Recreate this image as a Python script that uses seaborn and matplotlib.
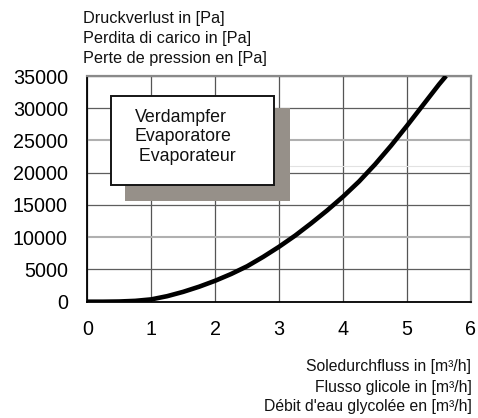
import matplotlib
matplotlib.use("Agg")
import matplotlib.pyplot as plt
import seaborn as sns
import pandas as pd
from matplotlib.patches import Rectangle
from matplotlib.ticker import MultipleLocator

# ---- data ----
flow = [0.0, 0.25, 0.5, 0.75, 1.0, 1.25, 1.5, 1.75, 2.0, 2.25, 2.5, 2.75,
        3.0, 3.25, 3.5, 3.75, 4.0, 4.25, 4.5, 4.75, 5.0, 5.25, 5.5, 5.61]
pressure_drop = [0, 0, 30, 130, 360, 860, 1530, 2330, 3250, 4300, 5500, 6950,
                 8530, 10250, 12150, 14150, 16300, 18650, 21300, 24200, 27300, 30500, 33700, 35000]
x_ticks = [0, 1, 2, 3, 4, 5, 6]
y_ticks = [0, 5000, 10000, 15000, 20000, 25000, 30000, 35000]
y_title = ["Druckverlust in [Pa]", "Perdita di carico in [Pa]", "Perte de pression en [Pa]"]
x_title = ["Soledurchfluss in [m³/h]", "Flusso glicole in [m³/h]", "Débit d'eau glycolée en [m³/h]"]
box_lines = ["Verdampfer", "Evaporatore", " Evaporateur"]

df = pd.DataFrame({"flow": flow, "dp": pressure_drop})

sns.set_theme(style="white")
plt.rcParams["font.family"] = ["Liberation Sans", "DejaVu Sans"]

W, H = 478, 418
fig = plt.figure(figsize=(W / 100, H / 100), dpi=100)
fig.patch.set_facecolor("white")
ax = fig.add_axes([87.3 / W, 1 - 301.7 / H, (471 - 87.3) / W, (301.7 - 76) / H])
ax.set_facecolor("white")

sns.lineplot(data=df, x="flow", y="dp", ax=ax, color="black", linewidth=3.3,
             solid_capstyle="butt", zorder=5)

ax.set_xlim(0, 6)
ax.set_ylim(0, 35000)
ax.set_xticks(x_ticks)
ax.set_yticks(y_ticks)
ax.set_xticklabels([str(v) for v in x_ticks])
ax.set_yticklabels([str(v) for v in y_ticks])
ax.xaxis.set_minor_locator(MultipleLocator(0.2))
ax.yaxis.set_minor_locator(MultipleLocator(1000))
ax.set_xlabel("")
ax.set_ylabel("")

ax.tick_params(axis="both", which="major", direction="out", length=4.3, width=0.9,
               color="black", labelsize=14.2, labelcolor="black")
ax.tick_params(axis="y", which="major", pad=9.6)
ax.tick_params(axis="x", which="major", pad=9)
ax.tick_params(axis="both", which="minor", direction="in", length=3, width=0.8, color="#333333")

ax.grid(True, which="major", axis="x", color="#555555", linewidth=0.9)
ax.grid(True, which="major", axis="y", color="#5e5e5e", linewidth=0.9)
ygl = ax.get_ygridlines()
for i in (2, 5):
    ygl[i].set_color("#b0b0b0")
    ygl[i].set_linewidth(1.5)
ax.set_axisbelow(True)

for side in ["left", "bottom"]:
    ax.spines[side].set_color("black")
    ax.spines[side].set_linewidth(1.3)
for side in ["top", "right"]:
    ax.spines[side].set_color("#8a8a8a")
    ax.spines[side].set_linewidth(1.6)

# faint scan line
ax.axhline(21000, xmin=0.528, xmax=1.0, color="#e2e2e2", linewidth=0.8, zorder=1)

# label box with shadow (axes fraction)
def fx(px):
    return (px - 87.3) / (471 - 87.3)

def fy(py):
    return (301.7 - py) / (301.7 - 76)

shadow = Rectangle((fx(125), fy(201)), fx(290) - fx(125), fy(107.7) - fy(201),
                   transform=ax.transAxes, facecolor="#969089", edgecolor="none", zorder=3)
ax.add_patch(shadow)
box = Rectangle((fx(111), fy(185)), fx(274) - fx(111), fy(95.5) - fy(185),
                transform=ax.transAxes, facecolor="white", edgecolor="#151515",
                linewidth=1.4, zorder=4)
ax.add_patch(box)
for line, base in zip(box_lines, [121.7, 141, 160.7]):
    ax.text(fx(134.5), fy(base), line, transform=ax.transAxes, fontsize=12.8,
            ha="left", va="baseline", color="#111111", zorder=6)

for line, base in zip(y_title, [22.7, 42.7, 63]):
    fig.text(83.3 / W, 1 - base / H, line, fontsize=11.7, ha="left", va="baseline", color="#111111")
for line, base in zip(x_title, [371, 391.7, 411]):
    fig.text(471.5 / W, 1 - base / H, line, fontsize=11.3, ha="right", va="baseline", color="#111111")

fig.savefig("out.png", dpi=100, facecolor="white")
